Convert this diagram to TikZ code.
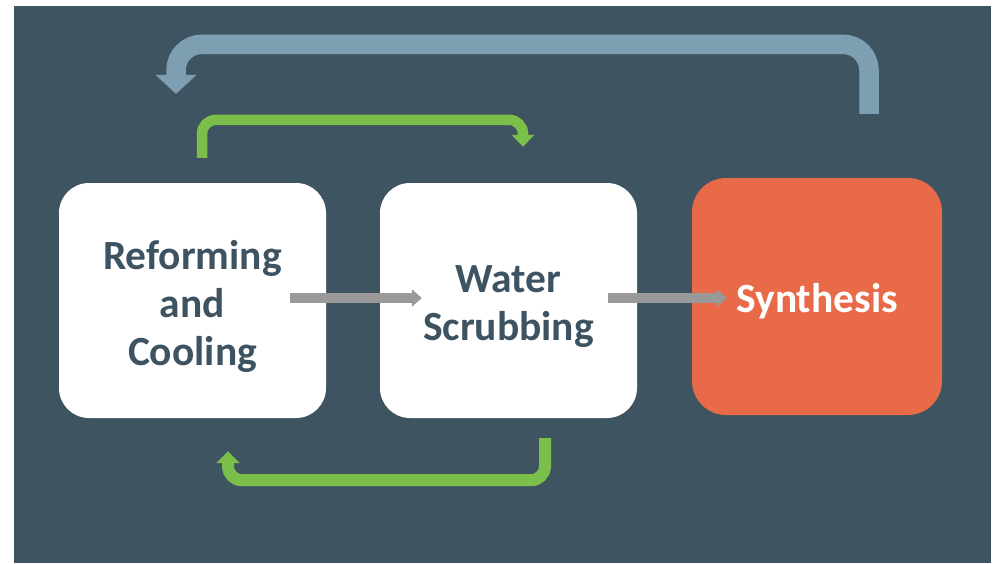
\documentclass[tikz,border=0pt]{standalone}
\usepackage{fontspec}
\setmainfont{Carlito}
\usetikzlibrary{arrows.meta,calc}
\definecolor{slate}{HTML}{3F5461}
\definecolor{txtslate}{HTML}{3E5361}
\definecolor{skyarrow}{HTML}{7E9FB1}
\definecolor{leafgreen}{HTML}{7BBF4A}
\definecolor{synorange}{HTML}{E96A48}
\definecolor{flowgrey}{HTML}{999999}
\tikzset{
  stagebox/.style={rectangle, rounded corners=30pt, inner sep=0pt},
  whitebox/.style={stagebox, fill=white},
  orangebox/.style={stagebox, fill=synorange},
  stagetext/.style={inner sep=0pt, align=center, font=\fontsize{41.5}{48}\selectfont\bfseries},
  darktext/.style={stagetext, text=txtslate},
  lighttext/.style={stagetext, text=white},
  greyflow/.style={draw=flowgrey, line width=10pt, -{Triangle[width=17pt,length=10pt]}},
  greenflow/.style={draw=leafgreen, line width=10.5pt, rounded corners=14pt, -{Triangle[width=22pt,length=12pt]}},
  greenflowb/.style={draw=leafgreen, line width=12pt, rounded corners=14pt, -{Triangle[width=23pt,length=12pt]}},
  blueflow/.style={draw=skyarrow, line width=19.5pt, rounded corners=26pt, -{Triangle[width=40pt,length=19pt]}}
}
\begin{document}
\begin{tikzpicture}[x=1pt,y=-1pt]
\fill[white] (0,0) rectangle (996,563);
\fill[slate] (14,6) rectangle (991,563);
\useasboundingbox (0,0) rectangle (996,563);
\node[whitebox, minimum width=267pt, minimum height=235pt] (b1) at (192.5,300.5) {};
\node[whitebox, minimum width=257pt, minimum height=235pt] (b2) at (508.5,300.5) {};
\node[orangebox, rounded corners=34pt, minimum width=250pt, minimum height=237pt] (b3) at (817,296.5) {};
\node[darktext] (t1) at ($(b1.center)+(0,6)$) {Reforming\\and\\Cooling};
\node[darktext] (t2) at ($(b2.center)+(0,6)$) {Water\\Scrubbing};
\node[lighttext] (t3) at ($(b3.center)+(0,5)$) {Synthesis};
\draw[greyflow] ($(b1.east)+(-36,-2.5)$) -- ($(b2.west)+(42,-2.5)$);
\draw[greyflow] ($(b2.east)+(-29,-2.5)$) -- ($(b3.west)+(35,1.5)$);
\coordinate (gs) at ($(b1.north)+(9.5,-25)$);
\coordinate (ge) at ($(b2.north)+(14.5,-36)$);
\draw[greenflow] (gs) -- ++(0,-38) -| (ge);
\coordinate (hs) at ($(b2.south)+(36.5,20)$);
\coordinate (he) at ($(b1.south)+(35.5,33)$);
\draw[greenflowb] (hs) -- ++(0,42) -| (he);
\coordinate (ks) at ($(b3.north)+(52,-64)$);
\coordinate (ke) at ($(b1.north)+(-16.5,-89)$);
\draw[blueflow] (ks) -- ++(0,-69.5) -| (ke);
\end{tikzpicture}
\end{document}
